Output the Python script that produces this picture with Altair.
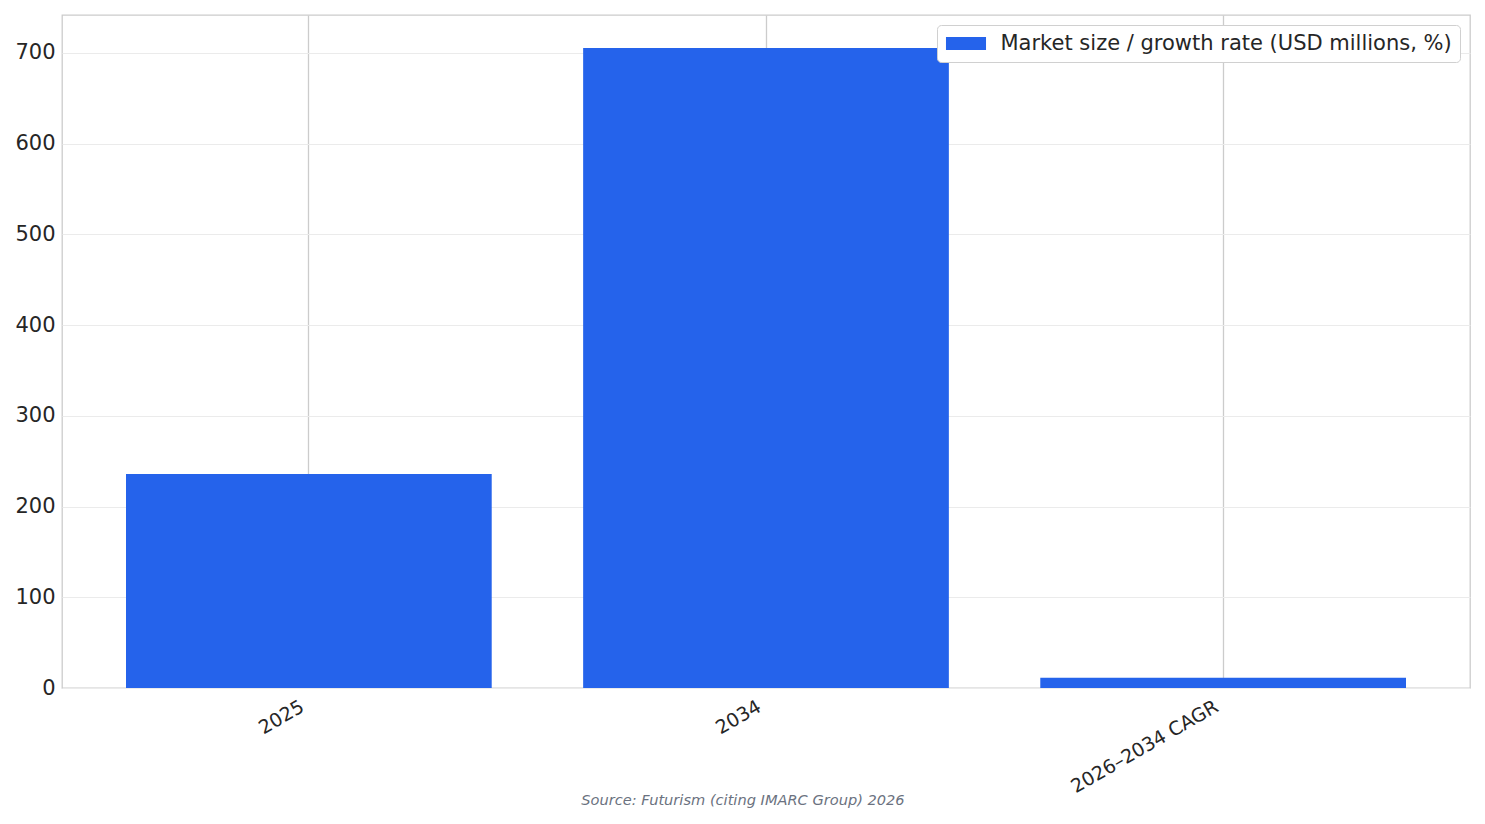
import altair as alt
import pandas as pd

categories = ["2025", "2034", "2026–2034 CAGR"]
values = [236.0, 705.4, 11.3]
series_name = "Market size / growth rate (USD millions, %)"
source_text = "Source: Futurism (citing IMARC Group) 2026"
y_ticks = [0, 100, 200, 300, 400, 500, 600, 700]

df = pd.DataFrame({"category": categories, "value": values, "series": [series_name] * len(categories)})
src = pd.DataFrame({"t": [source_text]})

FONT = "DejaVu Sans"
TXT = "#262626"

bars = alt.Chart(df).mark_bar(color="#2563EB").encode(
    x=alt.X(
        "category:N",
        sort=categories,
        title=None,
        scale=alt.Scale(paddingInner=0.2, paddingOuter=0.14),
        axis=alt.Axis(
            labelAngle=330,
            labelAlign="right",
            labelBaseline="top",
            labelFontSize=19,
            labelFont=FONT,
            labelColor=TXT,
            labelPadding=9,
            labelOffset=-11,
            labelLimit=0,
            ticks=False,
            domain=False,
            grid=True,
            gridColor="#cccccc",
            gridWidth=1.3,
        ),
    ),
    y=alt.Y(
        "value:Q",
        title=None,
        scale=alt.Scale(domain=[0, 741.8], nice=False, zero=True),
        axis=alt.Axis(
            values=y_ticks,
            format="d",
            labelFontSize=21,
            labelFont=FONT,
            labelColor=TXT,
            labelPadding=7,
            ticks=False,
            domain=False,
            grid=True,
            gridColor="#ebebeb",
            gridWidth=1,
        ),
    ),
    color=alt.Color(
        "series:N",
        scale=alt.Scale(range=["#2563EB"]),
        legend=alt.Legend(
            title=None,
            orient="none",
            legendX=875,
            legendY=10,
            symbolType="M-3.08,-1L3.08,-1L3.08,1L-3.08,1Z",
            symbolSize=169,
            symbolStrokeWidth=0,
            symbolOffset=10.5,
            labelFontSize=21,
            labelFont=FONT,
            labelColor=TXT,
            labelOffset=24,
            labelLimit=0,
            padding=8,
            strokeColor="#d0d0d0",
            fillColor="white",
            cornerRadius=4,
        ),
    ),
)

source = alt.Chart(src).mark_text(
    font=FONT, fontSize=14.6, fontStyle="italic", color="#6b7280", align="center", baseline="middle"
).encode(text="t:N", x=alt.value(681), y=alt.value(786))

chart = alt.layer(bars, source).properties(
    width=1408,
    height=673,
    padding={"left": 54, "top": 7, "right": 5, "bottom": 120},
    autosize=alt.AutoSizeParams(type="none"),
    background="white",
).configure_view(stroke="#cccccc", strokeWidth=1.3)

chart.save("out.html", embed_options={"renderer": "svg", "actions": False})
